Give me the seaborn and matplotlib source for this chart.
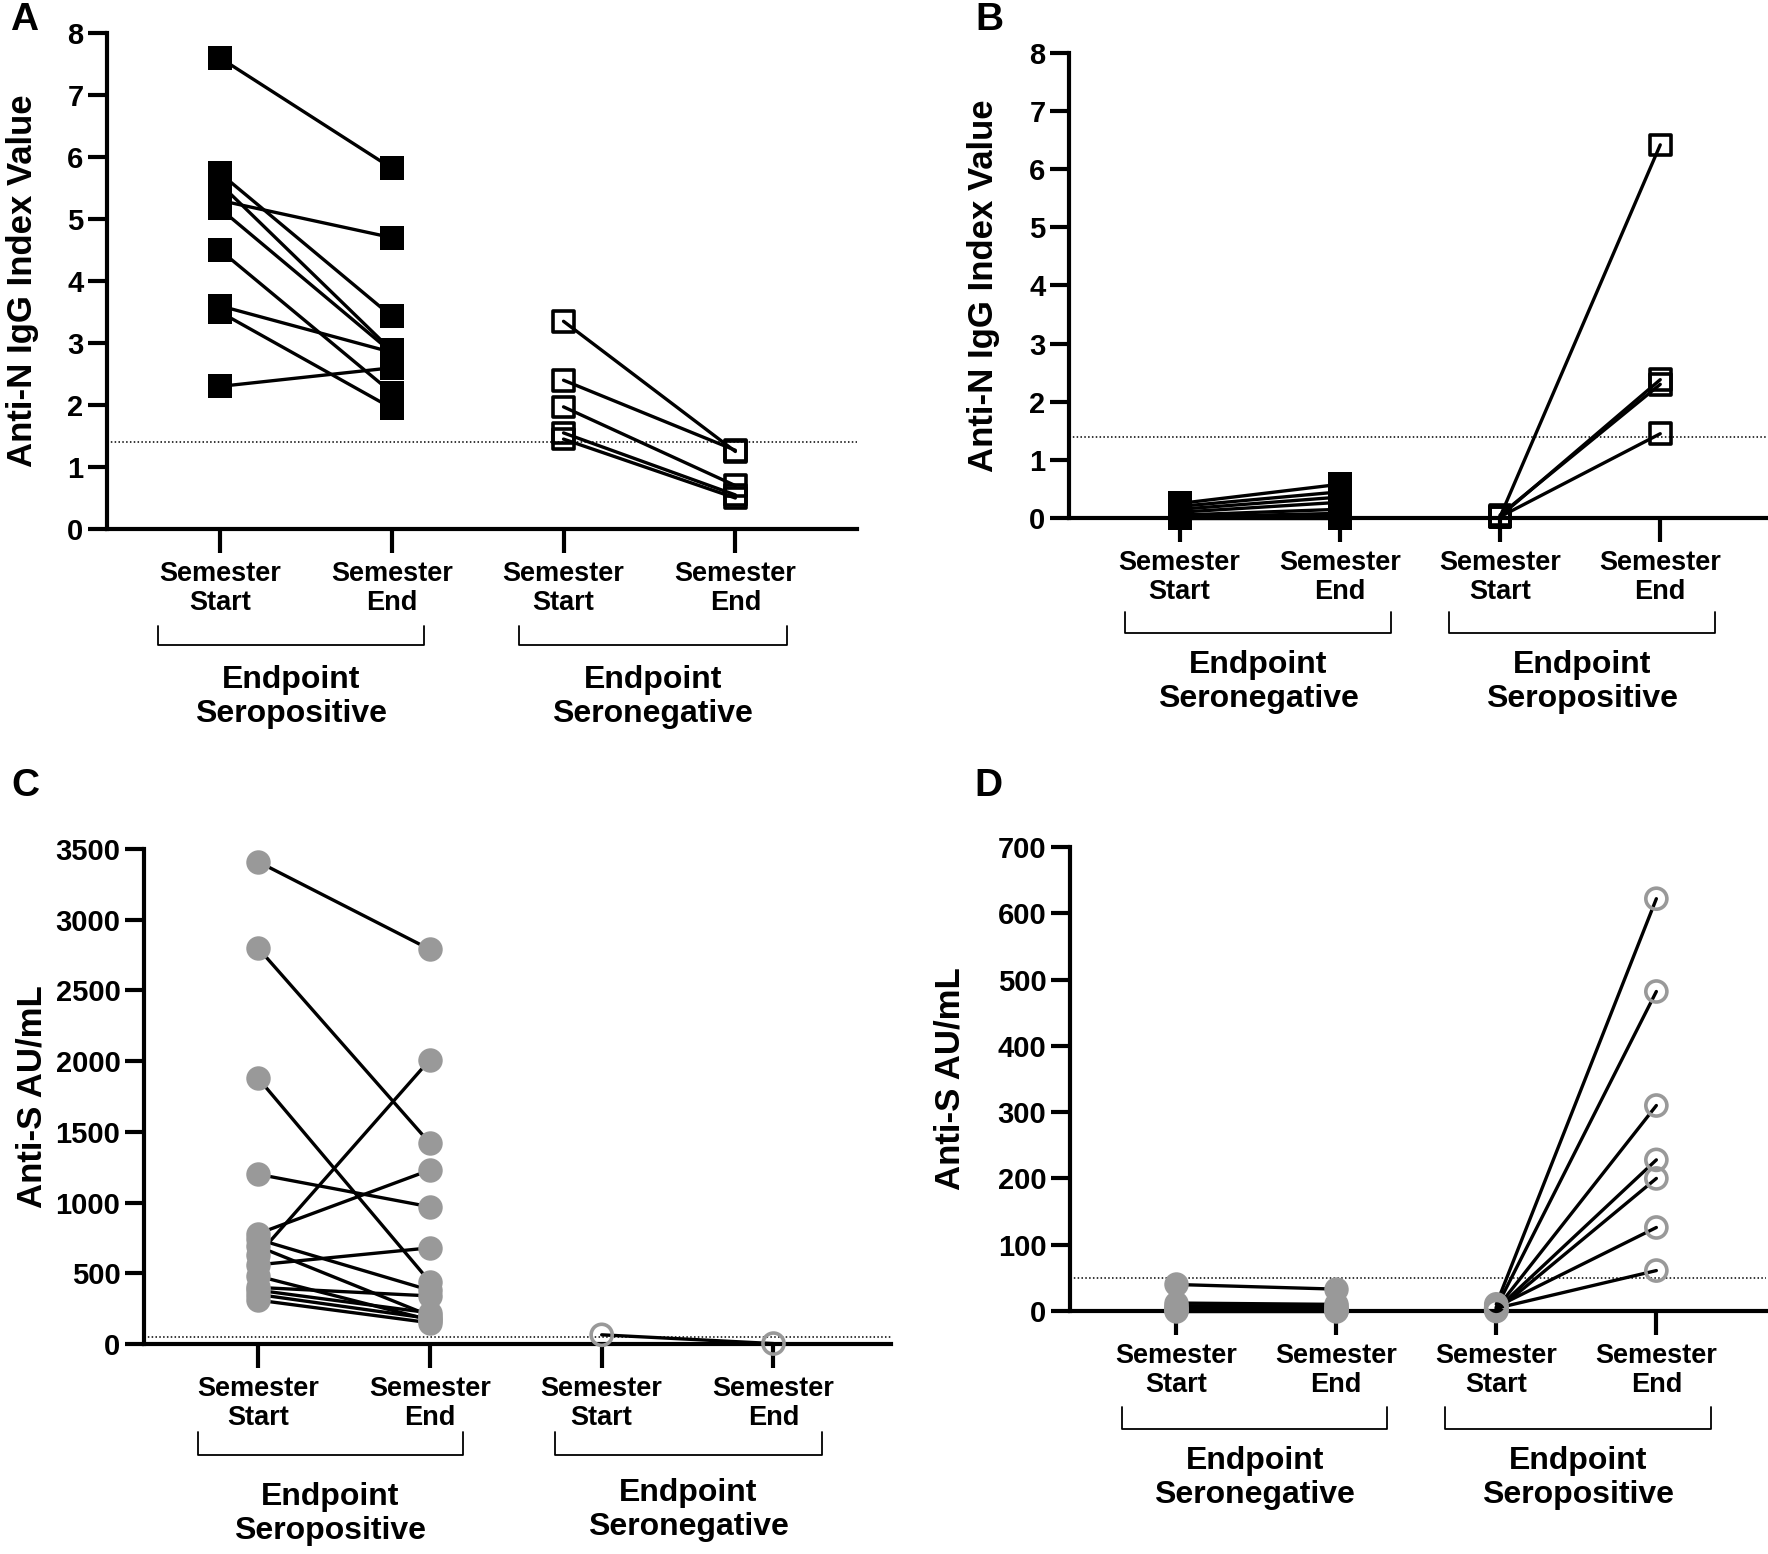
#!/usr/bin/env python3
""" Paired anti-N / anti-S serology, semester start vs end (4 panels)
"""

import numpy as np
import pandas as pd
import seaborn as sns
import matplotlib.pyplot as plt
from matplotlib.transforms import blended_transform_factory

#########################################################
### Data ###
#########################################################

x_labels = ['Semester\nStart', 'Semester\nEnd', 'Semester\nStart', 'Semester\nEnd']

# Panel A - anti-N, seropositive at semester start
a_pos_start = [7.6, 5.74, 5.57, 5.3, 5.17, 4.5, 3.6, 3.5, 2.3]
a_pos_end = [5.82, 3.43, 2.88, 4.7, 2.85, 2.2, 2.85, 1.95, 2.6]
a_neg_start = [3.35, 2.4, 1.97, 1.55, 1.45]
a_neg_end = [1.25, 1.27, 0.7, 0.55, 0.5]
a_groups = ['Endpoint\nSeropositive', 'Endpoint\nSeronegative']

# Panel B - anti-N, seronegative at semester start
b_neg_start = [0.25, 0.2, 0.15, 0.1, 0.05, 0.02, 0.0, 0.0]
b_neg_end = [0.58, 0.45, 0.36, 0.27, 0.15, 0.08, 0.03, 0.0]
b_pos_start = [0.02, 0.03, 0.05, 0.02]
b_pos_end = [6.42, 2.38, 2.3, 1.45]
b_groups = ['Endpoint\nSeronegative', 'Endpoint\nSeropositive']

# Panel C - anti-S, seropositive at semester start
c_pos_start = [3410, 2800, 1880, 1200, 780, 740, 630, 690, 560, 480, 400, 380, 350, 310]
c_pos_end = [2790, 1420, 440, 970, 1230, 380, 2010, 200, 680, 170, 340, 220, 180, 150]
c_neg_start = [65]
c_neg_end = [3]
c_groups = ['Endpoint\nSeropositive', 'Endpoint\nSeronegative']

# Panel D - anti-S, seronegative at semester start
d_neg_start = [40, 12, 8, 5, 3, 1, 0]
d_neg_end = [33, 10, 7, 5, 2, 1, 0]
d_pos_start = [10, 5, 3, 2, 0, 6, 4]
d_pos_end = [622, 482, 310, 228, 200, 126, 61]
d_groups = ['Endpoint\nSeronegative', 'Endpoint\nSeropositive']

# Positivity cut-offs
n_cutoff = 1.4
s_cutoff = 50

#########################################################
### Styling ###
#########################################################

sns.set_theme(style='ticks')
plt.rcParams['font.family'] = ['Liberation Sans', 'DejaVu Sans']
plt.rcParams['font.weight'] = 'bold'
for key in ['text.color', 'axes.labelcolor', 'xtick.color', 'ytick.color', 'axes.edgecolor']:
    plt.rcParams[key] = 'black'

num_font = ['Liberation Sans Narrow', 'Liberation Sans', 'DejaVu Sans']
GREY = '#999999'
W, H = 1768, 1554

fig = plt.figure(figsize=(W / 100, H / 100), dpi=100, facecolor='w')


def pairs(start, end, x0):
    n = len(start)
    return pd.DataFrame({'subject': list(range(n)) * 2,
                         'x': [x0] * n + [x0 + 1] * n,
                         'value': list(start) + list(end)})


def draw_group(ax, df, marker, color, filled, size):
    sns.lineplot(data=df, x='x', y='value', units='subject', estimator=None,
                 color='black', lw=2.4, sort=False, legend=False, ax=ax)
    sns.scatterplot(data=df, x='x', y='value', marker=marker, s=size,
                    color=color, edgecolor=color, linewidth=2.6 if not filled else 0,
                    legend=False, ax=ax, zorder=4)
    if not filled:
        ax.collections[-1].set_facecolor('none')
        ax.collections[-1].set_edgecolor(color)


def panel(box, xlim, ylim, yticks, ylabel, ylab_x, cutoff, groups, group_data,
          brackets, br_y, lab_y, letter, letter_xy):
    l, r, t, b = box
    ax = fig.add_axes([l / W, 1 - b / H, (r - l) / W, (b - t) / H])
    for df, marker, color, filled, size in group_data:
        draw_group(ax, df, marker, color, filled, size)
    ax.axhline(cutoff, ls=(0, (1, 1.5)), lw=1.1, color='black', zorder=1)

    ax.set_xlim(*xlim)
    ax.set_ylim(*ylim)
    ax.set_yticks(yticks)
    ax.set_yticklabels([str(v) for v in yticks], family=num_font, fontsize=21, weight='bold')
    ax.set_xticks([0, 1, 2, 3])
    ax.set_xticklabels(x_labels, fontsize=19.5, weight='bold', linespacing=1.15)
    ax.set_xlabel('')
    ax.set_ylabel(ylabel, fontsize=25, weight='bold')
    ax.yaxis.label.set_verticalalignment('center')
    ax.yaxis.set_label_coords(ylab_x, 0.5)

    sns.despine(ax=ax)
    for side in ['left', 'bottom']:
        ax.spines[side].set_linewidth(3)
        ax.spines[side].set_color('black')
    ax.tick_params(axis='y', length=14, width=3, pad=3, color='black')
    ax.tick_params(axis='x', length=17, width=3, pad=6, color='black')

    for art in ax.lines + ax.collections:
        art.set_clip_on(False)

    # brackets and group names under the axis
    trans = blended_transform_factory(ax.transData, fig.transFigure)
    y_top, y_bot = 1 - br_y[0] / H, 1 - br_y[1] / H
    for (x0, x1), name, ly in zip(brackets, groups, lab_y):
        ax.plot([x0, x0, x1, x1], [y_top, y_bot, y_bot, y_top], color='black',
                lw=1.3, transform=trans, clip_on=False)
        ax.text((x0 + x1) / 2, 1 - ly / H, name, transform=trans, ha='center',
                va='center', fontsize=23, weight='bold', linespacing=1.2)

    fig.text(letter_xy[0] / W, 1 - letter_xy[1] / H, letter, fontsize=28,
             weight='bold', ha='center', va='center')
    return ax


#########################################################
### Panels ###
#########################################################

panel((107, 857, 33, 529), (-0.657, 3.708), (0, 8), list(range(9)),
      'Anti-N IgG Index Value', -0.113, n_cutoff, a_groups,
      [(pairs(a_pos_start, a_pos_end, 0), 's', 'black', True, 290),
       (pairs(a_neg_start, a_neg_end, 2), 's', 'black', False, 220)],
      [(-0.36, 1.19), (1.74, 3.30)], (626, 645), (697, 697), 'A', (24, 20))

panel((1069, 1766, 53, 518), (-0.69, 3.66), (0, 8), list(range(9)),
      'Anti-N IgG Index Value', -0.123, n_cutoff, b_groups,
      [(pairs(b_neg_start, b_neg_end, 0), 's', 'black', True, 290),
       (pairs(b_pos_start, b_pos_end, 2), 's', 'black', False, 220)],
      [(-0.34, 1.32), (1.68, 3.34)], (612, 633), (682, 682), 'B', (989, 20))

panel((144, 891, 849, 1344), (-0.664, 3.684), (0, 3500), list(range(0, 3501, 500)),
      'Anti-S AU/mL', -0.15, s_cutoff, c_groups,
      [(pairs(c_pos_start, c_pos_end, 0), 'o', GREY, True, 310),
       (pairs(c_neg_start, c_neg_end, 2), 'o', GREY, False, 230)],
      [(-0.35, 1.19), (1.73, 3.28)], (1432, 1455), (1514, 1510), 'C', (25, 786))

panel((1070, 1766, 847, 1311), (-0.663, 3.685), (0, 700), list(range(0, 701, 100)),
      'Anti-S AU/mL', -0.172, s_cutoff, d_groups,
      [(pairs(d_neg_start, d_neg_end, 0), 'o', GREY, True, 310),
       (pairs(d_pos_start, d_pos_end, 2), 'o', GREY, False, 230)],
      [(-0.34, 1.32), (1.68, 3.34)], (1407, 1429), (1478, 1478), 'D', (988, 786))

plt.savefig('out.png', dpi=100, facecolor='w')
